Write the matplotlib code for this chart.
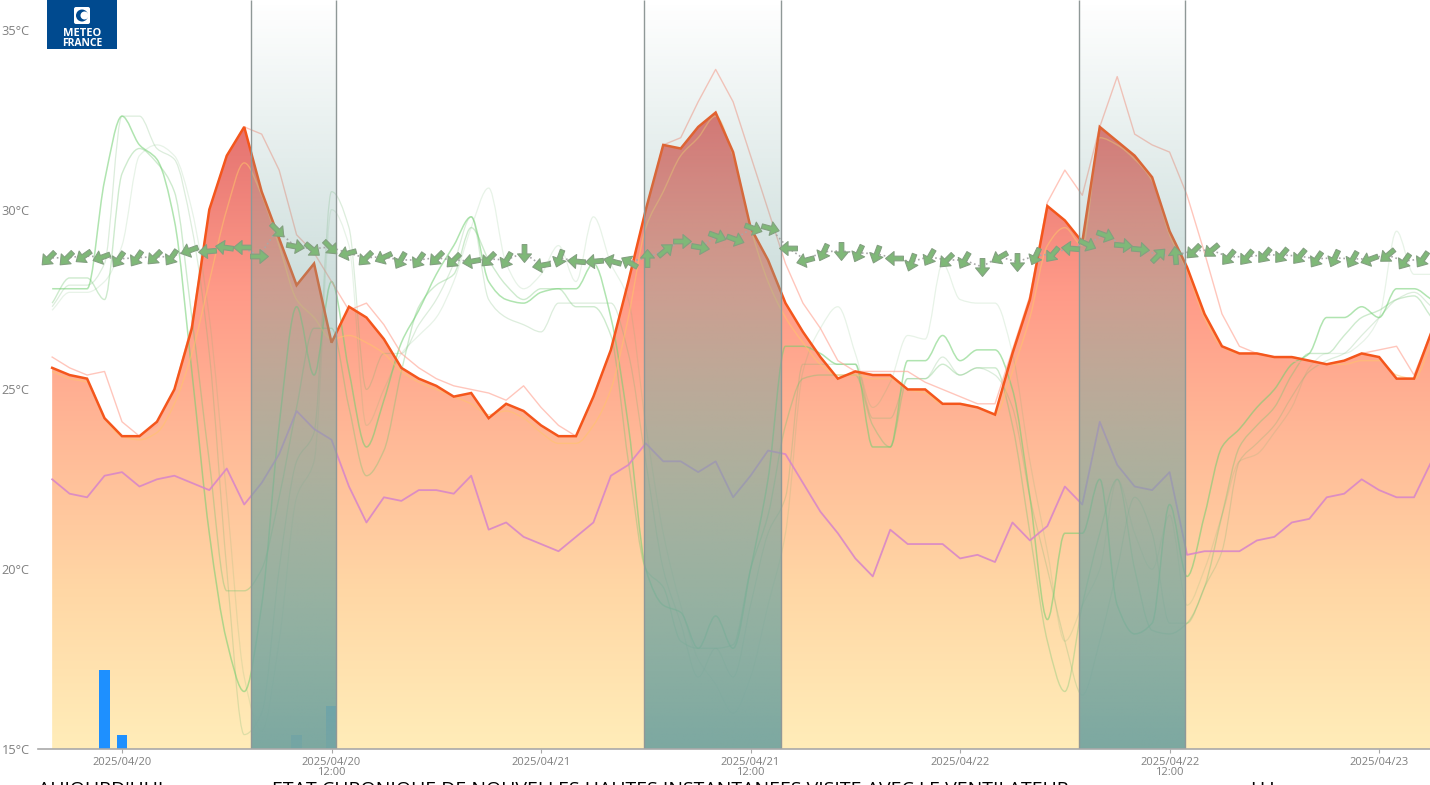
import matplotlib
matplotlib.use('Agg')
import matplotlib.pyplot as plt
from matplotlib.colors import LinearSegmentedColormap, to_rgb
from matplotlib.markers import MarkerStyle
from matplotlib.patches import Circle, FancyBboxPatch
from matplotlib.path import Path
from matplotlib.patches import PathPatch
from matplotlib.transforms import Affine2D
import numpy as np

plt.rcParams['font.family'] = ['Open Sans', 'DejaVu Sans']

# hours relative to 2025/04/20 00:00
hours = np.arange(-4, 76)

temperature = [
    25.6, 25.4, 25.3, 24.2, 23.7, 23.7, 24.1, 25.0, 26.7, 30.0,
    31.5, 32.3, 30.5, 29.2, 27.9, 28.5, 26.3, 27.3, 27.0, 26.4,
    25.6, 25.3, 25.1, 24.8, 24.9, 24.2, 24.6, 24.4, 24.0, 23.7,
    23.7, 24.8, 26.1, 28.0, 30.0, 31.8, 31.7, 32.3, 32.7, 31.6,
    29.5, 28.6, 27.4, 26.6, 25.9, 25.3, 25.5, 25.4, 25.4, 25.0,
    25.0, 24.6, 24.6, 24.5, 24.3, 26.0, 27.5, 30.1, 29.7, 29.1,
    32.3, 31.9, 31.5, 30.9, 29.4, 28.4, 27.1, 26.2, 26.0, 26.0,
    25.9, 25.9, 25.8, 25.7, 25.8, 26.0, 25.9, 25.3, 25.3, 26.6]

dew_point = [
    22.5, 22.1, 22.0, 22.6, 22.7, 22.3, 22.5, 22.6, 22.4, 22.2,
    22.8, 21.8, 22.4, 23.2, 24.4, 23.9, 23.6, 22.3, 21.3, 22.0,
    21.9, 22.2, 22.2, 22.1, 22.6, 21.1, 21.3, 20.9, 20.7, 20.5,
    20.9, 21.3, 22.6, 22.9, 23.5, 23.0, 23.0, 22.7, 23.0, 22.0,
    22.6, 23.3, 23.2, 22.4, 21.6, 21.0, 20.3, 19.8, 21.1, 20.7,
    20.7, 20.7, 20.3, 20.4, 20.2, 21.3, 20.8, 21.2, 22.3, 21.8,
    24.1, 22.9, 22.3, 22.2, 22.7, 20.4, 20.5, 20.5, 20.5, 20.8,
    20.9, 21.3, 21.4, 22.0, 22.1, 22.5, 22.2, 22.0, 22.0, 23.0]

temp_high = [
    25.9, 25.6, 25.4, 25.5, 24.1, 23.7, 24.0, 25.0, 26.8, 30.0,
    31.5, 32.3, 32.1, 31.1, 29.3, 28.8, 28.0, 27.2, 27.4, 26.8,
    26.0, 25.6, 25.3, 25.1, 25.0, 24.9, 24.7, 25.1, 24.5, 24.0,
    23.7, 24.8, 26.1, 28.0, 30.0, 31.8, 32.0, 33.0, 33.9, 33.0,
    31.5, 30.0, 28.5, 27.4, 26.7, 25.8, 25.5, 25.5, 25.5, 25.5,
    25.2, 25.0, 24.8, 24.6, 24.6, 26.1, 27.6, 30.2, 31.1, 30.4,
    32.3, 33.7, 32.1, 31.8, 31.6, 30.4, 28.8, 27.1, 26.2, 26.0,
    25.9, 25.8, 25.7, 25.7, 25.8, 26.0, 26.1, 26.2, 25.4, 26.6]

temp_low = [
    25.5, 25.3, 25.2, 24.2, 23.7, 23.6, 23.8, 24.6, 26.0, 28.0,
    30.0, 31.3, 30.4, 29.0, 27.5, 27.0, 26.4, 26.5, 26.3, 26.0,
    25.5, 25.2, 25.0, 24.8, 24.6, 24.3, 24.4, 24.2, 23.8, 23.5,
    23.5, 24.0, 25.0, 27.0, 29.5, 30.5, 31.5, 32.0, 32.6, 31.5,
    29.5, 28.0, 27.0, 26.3, 25.7, 25.4, 25.4, 25.3, 25.3, 25.0,
    24.9, 24.6, 24.6, 24.5, 24.3, 25.5, 27.0, 29.0, 29.5, 29.0,
    32.0, 31.8, 31.4, 30.8, 29.3, 28.3, 27.0, 26.2, 26.0, 26.0,
    25.9, 25.9, 25.8, 25.7, 25.7, 25.8, 25.8, 25.4, 25.3, 26.3]

green_a = [
    27.8, 27.8, 27.8, 30.8, 32.6, 31.8, 31.4, 29.7, 25.5, 21.0,
    18.0, 16.6, 19.0, 24.0, 27.3, 25.4, 28.0, 25.5, 23.4, 24.7,
    26.3, 27.2, 28.2, 29.0, 29.8, 28.0, 27.5, 27.4, 27.7, 27.8,
    27.8, 28.5, 27.0, 24.0, 20.0, 19.0, 18.8, 17.8, 18.7, 17.8,
    20.0, 22.5, 26.2, 26.2, 26.0, 25.7, 25.7, 23.4, 23.4, 25.8,
    25.8, 26.5, 25.8, 26.1, 26.1, 25.0, 22.0, 18.6, 21.0, 21.0,
    22.5, 19.0, 18.2, 18.5, 21.8, 19.8, 21.5, 23.4, 23.9, 24.5,
    25.0, 25.7, 26.0, 27.0, 27.0, 27.3, 27.0, 27.8, 27.8, 27.5]

green_b = [
    27.4, 28.1, 28.1, 27.5, 31.0, 31.7, 31.3, 30.5, 27.0, 23.0,
    19.4, 19.4, 20.0, 22.0, 24.5, 26.7, 26.7, 24.5, 22.6, 23.3,
    25.5, 27.3, 27.9, 28.2, 29.5, 28.6, 27.9, 27.5, 27.8, 27.8,
    27.3, 27.3, 26.5, 23.0, 20.0, 19.5, 18.0, 17.8, 17.8, 17.9,
    20.0, 21.5, 24.0, 25.3, 25.4, 25.4, 25.4, 24.0, 23.4, 25.3,
    25.3, 25.7, 25.4, 25.6, 25.6, 24.0, 21.0, 18.0, 16.6, 19.0,
    21.0, 22.5, 20.0, 18.3, 18.2, 18.5, 19.5, 21.5, 23.4, 24.0,
    24.5, 25.4, 26.0, 26.0, 26.5, 27.0, 27.2, 27.5, 27.6, 27.0]

green_c = [
    27.3, 27.9, 27.9, 28.5, 32.6, 32.6, 31.7, 31.4, 29.5, 26.0,
    20.0, 15.4, 16.0, 20.0, 23.0, 23.8, 30.5, 29.5, 25.0, 26.0,
    26.0, 26.8, 27.5, 28.5, 29.8, 27.5, 27.0, 26.8, 26.6, 27.4,
    27.4, 27.4, 27.4, 26.0, 23.0, 20.0, 18.5, 17.0, 17.8, 17.0,
    19.0, 21.0, 22.0, 25.7, 25.7, 25.7, 25.7, 24.2, 24.2, 25.3,
    25.3, 25.9, 25.4, 25.6, 25.4, 24.5, 22.0, 20.0, 18.0, 16.5,
    18.0, 20.0, 22.0, 21.0, 18.5, 18.5, 19.5, 20.5, 23.0, 23.5,
    24.0, 24.8, 25.5, 25.8, 26.0, 26.5, 27.0, 27.5, 27.7, 27.3]

green_d = [
    27.2, 27.7, 27.7, 28.0, 29.0, 31.5, 31.8, 31.5, 30.0, 27.0,
    22.0, 17.0, 15.5, 18.0, 22.0, 23.0, 30.0, 29.0, 24.0, 25.0,
    26.0, 26.5, 27.0, 28.0, 29.5, 30.6, 28.5, 27.8, 28.2, 29.0,
    28.0, 29.8, 28.5, 27.5, 24.0, 21.0, 19.0, 17.5, 16.8, 16.0,
    17.0, 19.0, 21.0, 25.5, 26.7, 27.3, 26.0, 24.5, 25.2, 26.5,
    26.4, 28.5, 27.5, 27.4, 27.4, 26.0, 23.0, 20.5, 18.0, 19.0,
    20.0, 22.5, 21.0, 20.0, 21.5, 19.0, 20.0, 21.5, 23.0, 23.2,
    23.8, 24.5, 25.6, 26.0, 26.0, 26.3, 27.0, 29.4, 28.2, 28.2]

rain_hours = [-1, 0, 10, 12]
rain = [2.2, 0.4, 0.4, 1.2]

# night / cloud periods, start and end hour
bands = [(7.39, 12.26), (29.9, 37.74), (54.8, 60.88)]

wind_level = [
    28.66, 28.66, 28.71, 28.69, 28.63, 28.66, 28.69, 28.69, 28.88, 28.85,
    28.96, 28.96, 28.71, 29.44, 28.99, 28.91, 28.96, 28.80, 28.66, 28.69,
    28.60, 28.60, 28.66, 28.60, 28.57, 28.63, 28.60, 28.80, 28.46, 28.66,
    28.57, 28.57, 28.57, 28.55, 28.66, 28.88, 29.13, 28.96, 29.27, 29.19,
    29.49, 29.49, 28.94, 28.60, 28.83, 28.85, 28.80, 28.77, 28.66, 28.55,
    28.69, 28.60, 28.60, 28.41, 28.69, 28.55, 28.71, 28.77, 28.94, 29.05,
    29.30, 29.02, 28.91, 28.74, 28.74, 28.85, 28.88, 28.69, 28.69, 28.74,
    28.74, 28.71, 28.63, 28.66, 28.63, 28.63, 28.74, 28.57, 28.63]

# direction the arrow points to, degrees counter-clockwise from east
wind_dir = [
    225, 225, 215, 200, 235, 235, 225, 235, 200, 185,
    172, 180, 0, -45, -10, -40, -45, 195, 225, 205,
    240, 235, 225, 225, 190, 225, 240, 270, 190, 250,
    175, 185, 165, 150, 90, 40, 0, -10, -20, -20,
    -20, -15, 180, 195, 245, 270, 245, 250, 180, 250,
    240, 225, 240, 270, 210, 270, 245, 230, 175, -25,
    -20, -5, -5, 45, 95, 225, 220, 230, 230, 230,
    230, 230, 235, 245, 240, 200, 220, 235, 235]

temp_ticks = [15, 20, 25, 30, 35]
date_ticks = [0, 12, 24, 36, 48, 60, 72]
date_labels = ['2025/04/20', '2025/04/20\n12:00', '2025/04/21', '2025/04/21\n12:00',
               '2025/04/22', '2025/04/22\n12:00', '2025/04/23']


def smooth_path(x, y):
    # monotone cubic through the points, like the chart's smooth line option
    x = np.asarray(x, float)
    y = np.asarray(y, float)
    d = np.diff(y) / np.diff(x)
    m = np.zeros(len(y))
    for i in range(1, len(y) - 1):
        if d[i - 1] * d[i] > 0:
            m[i] = 2 * d[i - 1] * d[i] / (d[i - 1] + d[i])
    m[0] = d[0]
    m[-1] = d[-1]
    verts = [(x[0], y[0])]
    codes = [Path.MOVETO]
    for i in range(len(y) - 1):
        h = x[i + 1] - x[i]
        verts += [(x[i] + h / 3, y[i] + m[i] * h / 3),
                  (x[i + 1] - h / 3, y[i + 1] - m[i + 1] * h / 3),
                  (x[i + 1], y[i + 1])]
        codes += [Path.CURVE4] * 3
    return Path(verts, codes)


fig = plt.figure(figsize=(14.3, 7.85), dpi=100)
ax = fig.add_axes([38 / 1430, 36 / 785, 1392 / 1430, 749 / 785])

# temperature area with vertical gradient
area = ax.fill_between(hours, temperature, 15, color='none', lw=0)
area_cmap = LinearSegmentedColormap.from_list('area', [
    (0.0, '#ffedb9'), (0.25, '#ffd7a5'), (0.5, '#ffb796'),
    (0.72, '#ff9a88'), (1.0, '#e2706f')])
grad = np.linspace(1, 0, 256).reshape(-1, 1)
img = ax.imshow(grad, cmap=area_cmap, aspect='auto', zorder=1,
                extent=[hours[0], hours[-1], 15, max(temperature)])
img.set_clip_path(area.get_paths()[0], transform=ax.transData)

ax.bar(rain_hours, rain, bottom=15, width=0.62, color='#1e90ff', zorder=2)

for series, color, alpha, lw in [(green_d, '#6fb56f', 0.16, 0.9),
                                 (green_c, '#6fb56f', 0.24, 0.9),
                                 (green_b, '#6fc46f', 0.34, 1.0),
                                 (green_a, '#6fcf6f', 0.55, 1.1)]:
    ax.add_patch(PathPatch(smooth_path(hours, series), fill=False, ec=color,
                           alpha=alpha, lw=lw, zorder=3))
ax.add_patch(PathPatch(smooth_path(hours, temp_low), fill=False, ec='#ffc46a',
                       alpha=0.55, lw=1.0, zorder=3))
ax.plot(hours, temp_high, color='#ffa898', alpha=0.65, lw=1.0, zorder=3)
ax.plot(hours, dew_point, color='#d987c8', alpha=0.9, lw=1.3, zorder=3)
ax.plot(hours, temperature, color='#f4561c', lw=1.8, solid_joinstyle='miter', zorder=4)

# shaded periods fade from clear at the top to teal at the bottom
teal = to_rgb('#78a6a0')
band_rgba = np.ones((256, 1, 4))
band_rgba[:, :, :3] = teal
band_rgba[:, 0, 3] = np.linspace(0, 0.97, 256)
for start, end in bands:
    ax.imshow(band_rgba, aspect='auto', zorder=5, extent=[start, end, 15, 35.83])
    ax.vlines([start, end], 15, 35.83, color='#8f9897', lw=1.0, zorder=6)

# wind arrows over a dotted line
wind_hours = np.linspace(-4.24, 74.46, len(wind_level))
ax.plot(wind_hours, wind_level, ls=':', color='#a8a8a8', lw=1.2, zorder=7)
arrow = Path([(-1, -0.26), (0.05, -0.26), (0.05, -0.78), (1, 0), (0.05, 0.78),
              (0.05, 0.26), (-1, 0.26), (-1, -0.26)], closed=True)
for x, y, a in zip(wind_hours, wind_level, wind_dir):
    ax.scatter(x, y, s=165, marker=MarkerStyle(arrow, transform=Affine2D().rotate_deg(a)),
               facecolor='#7fb878', edgecolor='#83a080', lw=0.8, zorder=8)

ax.set_xlim((38 - 122) / 17.46, (1430 - 122) / 17.46)
ax.set_ylim(15, 35.83)
ax.set_facecolor('none')
for side in ['top', 'right', 'left']:
    ax.spines[side].set_visible(False)
ax.spines['bottom'].set_color('#a9a9a9')
ax.spines['bottom'].set_linewidth(1.2)
ax.spines['bottom'].set_zorder(9)
ax.set_xticks(date_ticks)
ax.set_xticklabels(date_labels, fontsize=8, color='#7f7f7f', linespacing=0.85)
ax.set_yticks(temp_ticks)
ax.set_yticklabels(['%d°C' % t for t in temp_ticks], fontsize=9.2, color='#808080')
ax.tick_params(axis='x', length=3, width=0.8, color='#a9a9a9', pad=3)
ax.tick_params(axis='y', length=0, pad=6)

# logo
logo = fig.add_axes([47 / 1430, 736 / 785, 70 / 1430, 49 / 785])
logo.set_xlim(0, 70)
logo.set_ylim(49, 0)
logo.set_facecolor('#004a8f')
logo.set_xticks([])
logo.set_yticks([])
for s in logo.spines.values():
    s.set_visible(False)
logo.add_patch(FancyBboxPatch((27, 7), 16, 17, boxstyle='round,pad=0,rounding_size=2',
                              fc='white', ec='none'))
logo.add_patch(Circle((35, 15.5), 6, fc='#004a8f', ec='none'))
logo.add_patch(Circle((37.5, 15.5), 4, fc='white', ec='none'))
logo.text(35, 33, 'METEO', color='white', fontsize=8, fontweight='bold', ha='center', va='center')
logo.text(35, 43.5, 'FRANCE', color='white', fontsize=7.5, fontweight='bold', ha='center', va='center')

# page heading cut off by the bottom edge of the screenshot
for px, txt in [(38, 'AUJOURD\'HUI :'),
                (272, 'ETAT CHRONIQUE DE NOUVELLES HAUTES INSTANTANEES VISITE AVEC LE VENTILATEUR'),
                (1250, 'H.I')]:
    fig.text(px / 1430, 1 - 781 / 785, txt, color='black', fontsize=14, va='top', ha='left')

fig.savefig('out.png', dpi=100)
